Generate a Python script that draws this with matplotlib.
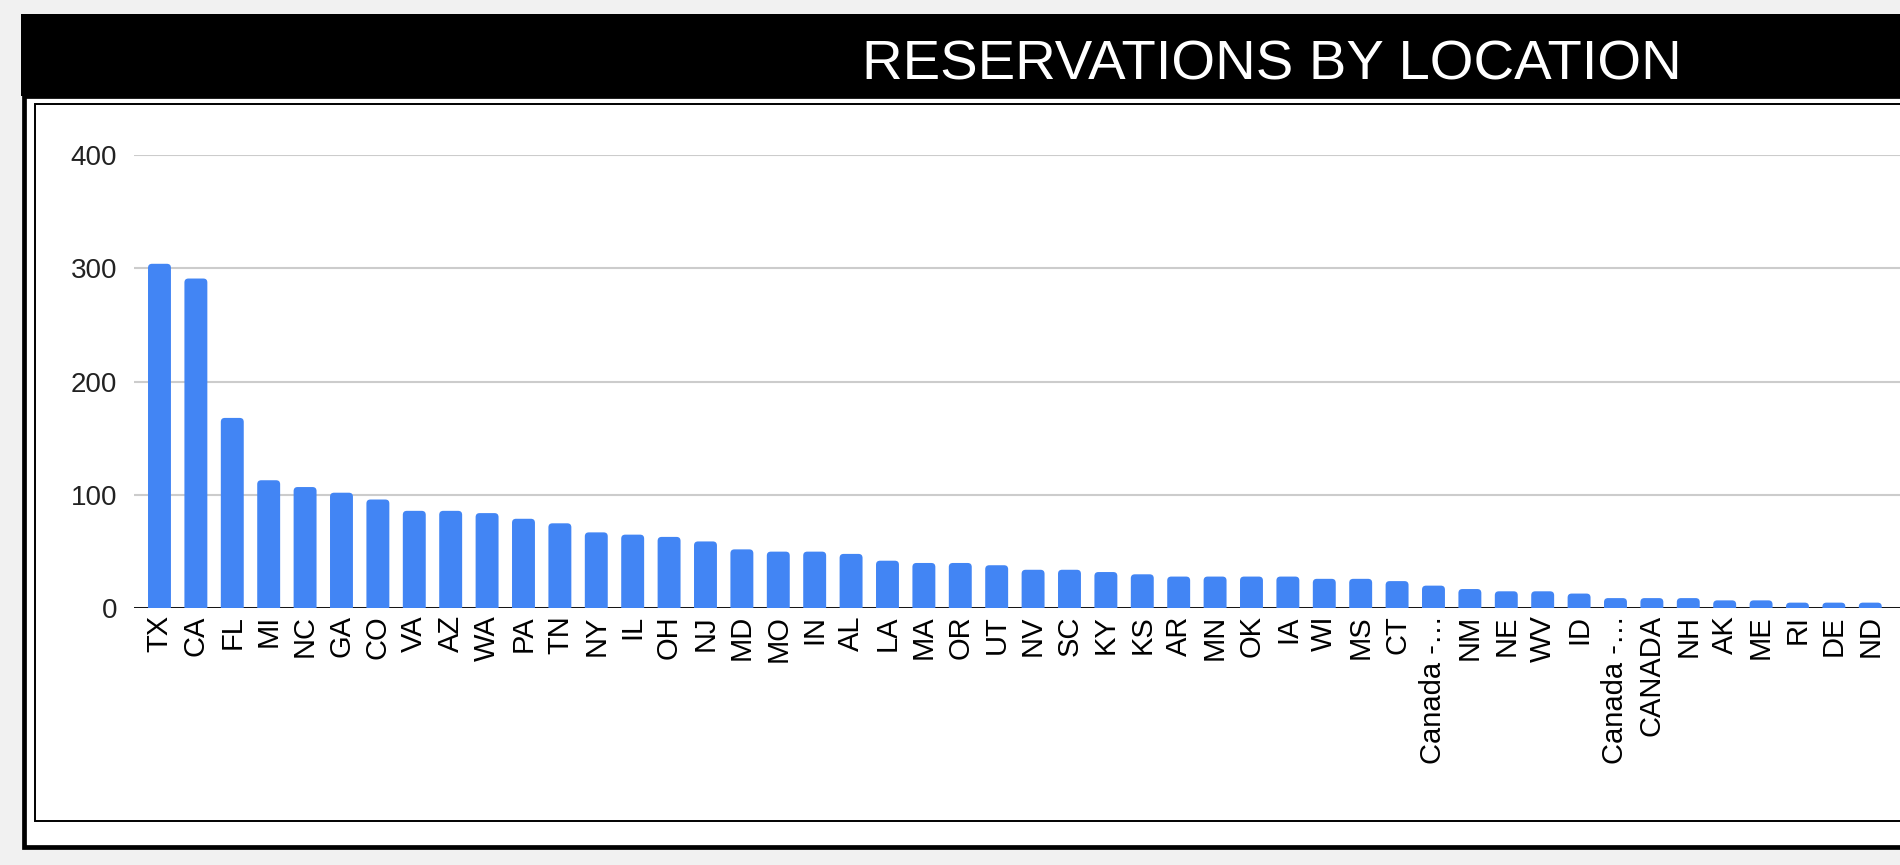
import matplotlib

matplotlib.use("Agg")
import matplotlib.pyplot as plt
from matplotlib.patches import FancyBboxPatch, Rectangle

W, H = 1900, 865

states = [
    "TX", "CA", "FL", "MI", "NC", "GA", "CO", "VA", "AZ", "WA", "PA", "TN",
    "NY", "IL", "OH", "NJ", "MD", "MO", "IN", "AL", "LA", "MA", "OR", "UT",
    "NV", "SC", "KY", "KS", "AR", "MN", "OK", "IA", "WI", "MS", "CT",
    "Canada -…", "NM", "NE", "WV", "ID", "Canada -…", "CANADA", "NH", "AK",
    "ME", "RI", "DE", "ND",
]
reservations = [
    304, 291, 168, 113, 107, 102, 96, 86, 86, 84, 79, 75,
    67, 65, 63, 59, 52, 50, 50, 48, 42, 40, 40, 38,
    34, 34, 32, 30, 28, 28, 28, 28, 26, 26, 24,
    20, 17, 15, 15, 13, 9, 9, 9, 7,
    7, 5, 5, 5,
]
y_ticks = [0, 100, 200, 300, 400]

BAR_W = 0.63
PX_PER_X = 36.4        # one category step, in pixels
PX_PER_Y = 453.3 / 400  # one reservation, in pixels


def box(x0, y0, x1, y1):
    """pixel box (top-left origin) -> figure-fraction (x, y, w, h)"""
    return x0 / W, 1 - y1 / H, (x1 - x0) / W, (y1 - y0) / H


plt.rcParams["font.family"] = ["Liberation Sans", "DejaVu Sans"]
fig = plt.figure(figsize=(W / 100, H / 100), dpi=100, facecolor="#f1f1f1")

# card frames and black header bar
x, y, w, h = box(23.5, 96, 1940, 846.5)
fig.patches.append(Rectangle((x, y), w, h, transform=fig.transFigure,
                             facecolor="white", edgecolor="black", lw=3.4, zorder=-3))
x, y, w, h = box(21, 14, 1940, 96)
fig.patches.append(Rectangle((x, y), w, h, transform=fig.transFigure,
                             facecolor="black", edgecolor="none", zorder=-2))
x, y, w, h = box(34.5, 104, 1940, 821)
fig.patches.append(Rectangle((x, y), w, h, transform=fig.transFigure,
                             facecolor="white", edgecolor="black", lw=1.4, zorder=-1))

fig.text(1272 / W, 1 - 80 / H, "RESERVATIONS BY LOCATION", color="white",
         fontsize=40.5, ha="center", va="baseline")

ax = fig.add_axes(box(134, 155, 1905, 608.3))
ax.set_facecolor("none")
pos = list(range(len(states)))

# bars with slightly rounded tops (bottom corners hidden below the axis)
r = 4 / PX_PER_X
sink = 8 / PX_PER_Y
for i, v in zip(pos, reservations):
    ax.add_patch(FancyBboxPatch(
        (i - BAR_W / 2, -sink), BAR_W, v + sink,
        boxstyle=f"round,pad=0,rounding_size={r}",
        mutation_aspect=PX_PER_X / PX_PER_Y,
        facecolor="#4285f4", edgecolor="none", zorder=3))
ax.axhline(0, color="black", lw=2, zorder=2)

ax.set_ylim(0, 400)
ax.set_xlim(-0.70, -0.70 + 1771 / PX_PER_X)
ax.set_yticks(y_ticks)
ax.set_yticklabels([str(t) for t in y_ticks], fontsize=20, color="#222222")
ax.set_xticks(pos)
ax.set_xticklabels(states, rotation=90, fontsize=21, color="black")
ax.tick_params(axis="y", length=0, pad=12)
ax.tick_params(axis="x", length=0, pad=5)
ax.grid(axis="y", color="#cccccc", lw=1.5, zorder=0)
ax.set_axisbelow(True)
for s in ax.spines.values():
    s.set_visible(False)

fig.savefig("out.png", dpi=100, facecolor=fig.get_facecolor())
